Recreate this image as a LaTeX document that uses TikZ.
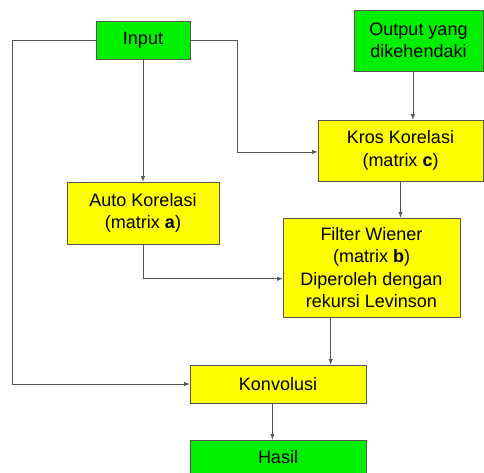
\documentclass[tikz,border=0pt]{standalone}
\usepackage{fontspec}
\setmainfont{Liberation Sans}
\usetikzlibrary{positioning}
\definecolor{BoxGreen}{HTML}{00F000}
\definecolor{BoxYellow}{HTML}{FFFF00}
\definecolor{LineGray}{HTML}{555555}

\begin{document}
\begin{tikzpicture}[x=0.025cm,y=-0.025cm,
    box/.style={draw=LineGray,thin,inner sep=0pt,align=center,
      font=\fontsize{12.8}{16}\selectfont},
    start/.style={box,fill=BoxGreen},
    proc/.style={box,fill=BoxYellow},
    arrow/.style={-latex,thin,draw=LineGray}
  ]
    \useasboundingbox (0,0) rectangle (484,472);
    \node[start,minimum width=2.35cm,minimum height=0.95cm] (input) at (143,40) {Input};
    \node[start,minimum width=3.225cm,minimum height=1.525cm] (output) at (418.5,40.5) {Output yang\\dikehendaki};
    \node[proc,minimum width=4.125cm,minimum height=1.525cm] (kros) at (400.5,150.5) {Kros Korelasi\\(matrix \textbf{c})};
    \node[proc,minimum width=3.8cm,minimum height=1.55cm] (auto) at (143,213) {Auto Korelasi\\(matrix \textbf{a})};
    \node[proc,minimum width=4.425cm,minimum height=2.475cm] (filter) at (371.5,267.5) {Filter Wiener\\(matrix \textbf{b})\\Diperoleh dengan\\rekursi Levinson};
    \node[proc,minimum width=4.4cm,minimum height=0.95cm] (konv) at (278,384) {Konvolusi};
    \node[start,minimum width=4.4cm,minimum height=0.85cm] (hasil) at (278,457) {Hasil};
    \draw[arrow] (input.west) -- ++(-83,0) |- (konv.west);
    \draw[arrow] (input.east) -- ++(47,0) |- ([yshift=-1pt]kros.west);
    \draw[arrow] (input) -- (auto);
    \draw[arrow] ([xshift=-4pt]output.south) -- ([xshift=-4pt]output.south |- kros.north);
    \draw[arrow] (kros.south) -- (kros.south |- filter.north);
    \draw[arrow] (auto.south) |- ([yshift=-8pt]filter.west);
    \draw[arrow] ([xshift=-29pt]filter.south) -- ([xshift=-29pt]filter.south |- konv.north);
    \draw[arrow] ([xshift=-4pt]konv.south) -- ([xshift=-4pt]konv.south |- hasil.north);
  \end{tikzpicture}
\end{document}
